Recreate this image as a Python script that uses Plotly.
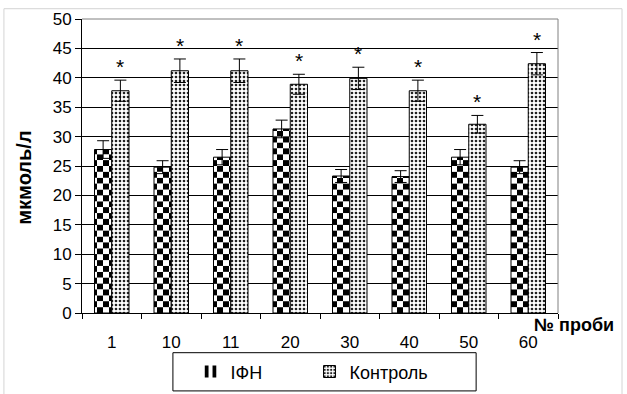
import plotly.graph_objects as go

# Sample numbers and measured concentrations (mean ± error), мкмоль/л
samples = ["1", "10", "11", "20", "30", "40", "50", "60"]
ifn_values = [27.8, 24.8, 26.5, 31.3, 23.3, 23.2, 26.5, 24.8]
ifn_errors = [1.5, 1.1, 1.3, 1.5, 1.1, 1.0, 1.3, 1.1]
control_values = [37.8, 41.2, 41.2, 38.9, 39.9, 37.8, 32.1, 42.4]
control_errors = [1.8, 2.0, 2.0, 1.7, 1.9, 1.8, 1.5, 1.9]
significant = ["*", "*", "*", "*", "*", "*", "*", "*"]

FONT = "Liberation Sans, Arial, sans-serif"
BAR_W = 0.29
IFN_OFF = -0.29
CTL_OFF = 0.0
CELL = 1.0  # height of one checker row, in axis units

# split each ІФН bar into rows; alternating rows swap colours -> checkerboard
rows = {0: ([], [], []), 1: ([], [], [])}
for i, v in enumerate(ifn_values):
    k = 0
    while k * CELL < v:
        xs, bases, hs = rows[k % 2]
        xs.append(samples[i])
        bases.append(k * CELL)
        hs.append(min(CELL, v - k * CELL))
        k += 1

fig = go.Figure()

for parity, (fg, bg) in {0: ("black", "white"), 1: ("white", "black")}.items():
    xs, bases, hs = rows[parity]
    fig.add_trace(go.Bar(
        x=xs, y=hs, base=bases,
        width=BAR_W, offset=IFN_OFF,
        marker=dict(color=bg, line=dict(width=0),
                    pattern=dict(shape="|", fgcolor=fg, bgcolor=bg,
                                 fillmode="replace", size=12, solidity=0.5,
                                 fgopacity=1)),
        name="ІФН", showlegend=(parity == 0), legendgroup="ifn",
        hoverinfo="skip",
    ))

# outline + error bars for ІФН
fig.add_trace(go.Bar(
    x=samples, y=ifn_values, width=BAR_W, offset=IFN_OFF,
    marker=dict(color="rgba(0,0,0,0)", line=dict(color="black", width=1)),
    error_y=dict(type="data", array=ifn_errors, color="black",
                 thickness=1, width=6),
    showlegend=False, legendgroup="ifn", name="ІФН",
))

fig.add_trace(go.Bar(
    x=samples, y=control_values, width=BAR_W, offset=CTL_OFF,
    marker=dict(color="white", line=dict(color="black", width=1),
                pattern=dict(shape=".", fgcolor="#222", bgcolor="white",
                             fillmode="replace", size=4, solidity=0.35)),
    error_y=dict(type="data", array=control_errors, color="black",
                 thickness=1, width=6),
    name="Контроль",
))

# significance marks above the control bars
for i, (v, e, s) in enumerate(zip(control_values, control_errors, significant)):
    fig.add_annotation(
        x=i + CTL_OFF + BAR_W / 2, y=v + e, text=s, showarrow=False,
        xref="x", yref="y", yanchor="bottom", yshift=0,
        font=dict(family=FONT, size=21, color="black"),
    )

# y-axis title and x-axis caption
fig.add_annotation(x=-0.122, y=0.46, xref="paper", yref="paper",
                   text="<b>мкмоль/л</b>", textangle=-90, showarrow=False,
                   xanchor="center", yanchor="middle",
                   font=dict(family=FONT, size=20, color="black"))
fig.add_annotation(x=1.0, y=-0.04, xref="paper", yref="paper",
                   text="<b>№ проби</b>", showarrow=False,
                   xanchor="left", yanchor="middle", xshift=-26,
                   font=dict(family=FONT, size=18, color="black"))

# grey plot-area border on top and right, grey frame round the chart,
# black frame round the legend
fig.add_shape(type="path", path="M 0 1 L 1 1 L 1 0", xref="paper", yref="paper",
              line=dict(color="#808080", width=1), layer="above")
fig.add_shape(type="rect", x0=-0.164, x1=1.1345, y0=-0.33, y1=1.035,
              xref="paper", yref="paper",
              line=dict(color="#d4d4d4", width=1), layer="below")
fig.add_shape(type="rect", x0=0.191, x1=0.828, y0=-0.135, y1=-0.265,
              xref="paper", yref="paper",
              line=dict(color="black", width=1), layer="below")

fig.update_layout(
    width=627, height=394,
    margin=dict(l=82, r=69, t=19, b=81, autoexpand=False),
    paper_bgcolor="white", plot_bgcolor="white",
    barmode="overlay",
    font=dict(family=FONT, size=17, color="black"),
    legend=dict(orientation="h", x=0.228, y=-0.2, xanchor="left", yanchor="middle",
                borderwidth=0, entrywidth=74, bgcolor="rgba(0,0,0,0)",
                font=dict(family=FONT, size=18, color="black")),
    xaxis=dict(type="category", categoryorder="array", categoryarray=samples,
               range=[-0.5, 7.5], tickson="boundaries", ticks="outside",
               ticklen=5, tickcolor="black", showline=True, linecolor="black",
               linewidth=1, showgrid=False, ticklabelstandoff=14,
               tickfont=dict(family=FONT, size=17, color="black")),
    yaxis=dict(range=[0, 50], dtick=5, ticks="outside", ticklen=6,
               tickcolor="black", showline=True, linecolor="black", linewidth=1,
               showgrid=True, gridcolor="black", gridwidth=1, zeroline=False,
               tickfont=dict(family=FONT, size=17, color="black")),
)

fig.write_html("out.html")
